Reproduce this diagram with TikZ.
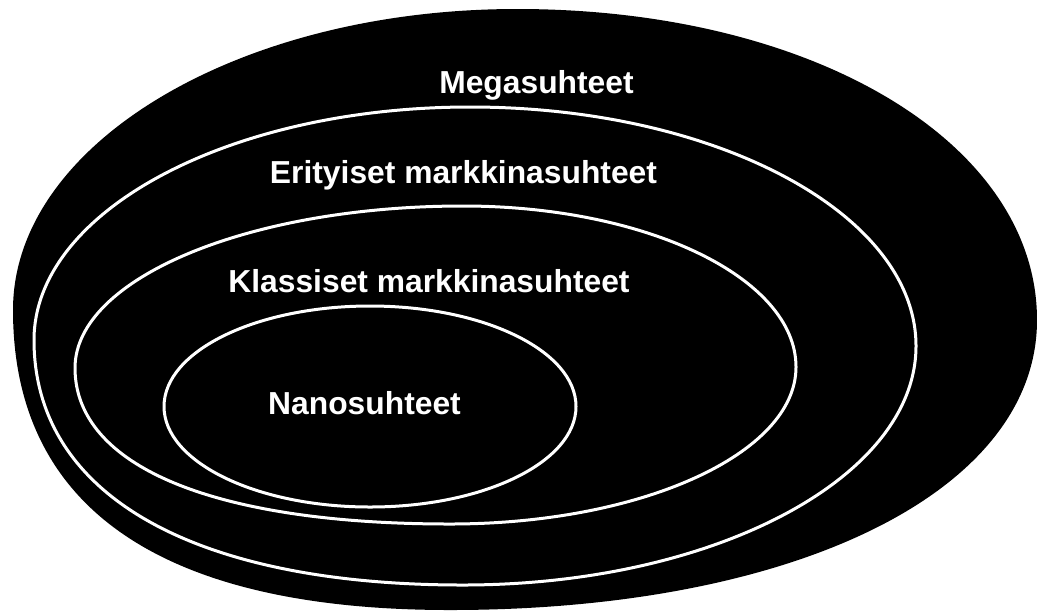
\documentclass[tikz,border=0pt]{standalone}
\usepackage{fontspec}
\setmainfont{Liberation Sans}
\tikzset{
  ring/.style={draw=white,line width=1.5pt},
  lbl/.style={text=white,font=\bfseries\fontsize{15.9}{18}\selectfont,
    anchor=base,inner sep=0pt}}

\begin{document}
\begin{tikzpicture}[x=0.5pt,y=-0.5pt]
\useasboundingbox(0,0)rectangle(1037,612);
% outer blob, a bit fuller towards the lower left
\fill[black](13,310).. controls (13,143.8) and (238.6,9) ..(517,9)
  .. controls (813.4,9) and (1037,142.7) ..(1037,320)
  .. controls (1037,491.1) and (796.3,610) ..(450,610)
  .. controls (161.6,610) and (13,508) ..cycle;
% middle rings
\draw[ring](34,340).. controls (34,211.3) and (229.2,107) ..(470,107)
  .. controls (716.3,107) and (916,214) ..(916,346)
  .. controls (916,478) and (713.2,585) ..(463,585)
  .. controls (192.7,585) and (34,494.4) ..cycle;
\draw[ring](75,368).. controls (75,278.5) and (248.7,206) ..(463,206)
  .. controls (646.9,206) and (796,278.1) ..(796,367)
  .. controls (796,453.7) and (641.1,524) ..(450,524)
  .. controls (213.7,524) and (75,466.3) ..cycle;
\draw[ring](370,406.5)ellipse[x radius=206,y radius=100.5];
\node[lbl](mega)at(536.5,93){Megasuhteet};
\node[lbl](erit)at(463.5,183){Erityiset markkinasuhteet};
\node[lbl](klas)at(429,292){Klassiset markkinasuhteet};
\node[lbl](nano)at(364.5,414){Nanosuhteet};
\end{tikzpicture}
\end{document}
